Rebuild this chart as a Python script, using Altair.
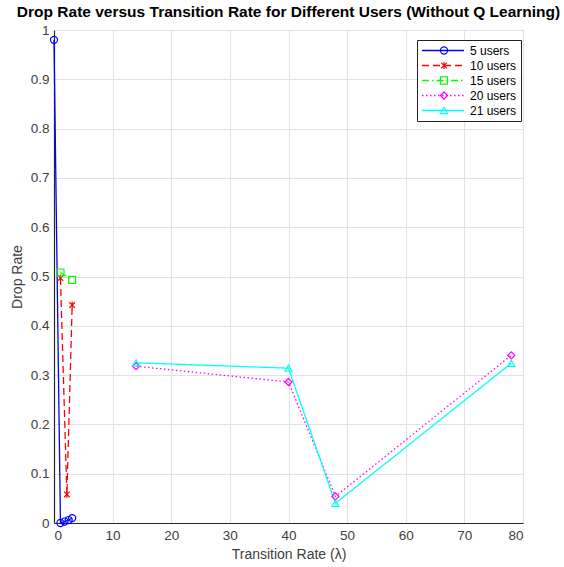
import altair as alt
import pandas as pd

series_names = ["5 users", "10 users", "15 users", "20 users", "21 users"]
colors = ["#0000FF", "#FF0000", "#00FF00", "#FF00FF", "#00FFFF"]
dashes = [[1, 0], [7, 4], [7, 3, 1.5, 3], [1.5, 2.5], [1, 0]]
asterisk = "M-0.8,-0.8L0.8,0.8M-0.8,0.8L0.8,-0.8M0,-1L0,1"
shapes = ["circle", asterisk, "square", "diamond", "triangle-up"]

x_5 = [0, 1.1, 1.8, 2.5, 3.1]
y_5 = [0.98, 0.0, 0.003, 0.006, 0.01]
x_10 = [1.1, 2.2, 3.1]
y_10 = [0.497, 0.058, 0.442]
x_15 = [1.1, 3.1]
y_15 = [0.508, 0.493]
x_20 = [14, 40, 48, 78]
y_20 = [0.318, 0.286, 0.054, 0.34]
x_21 = [14, 40, 48, 78]
y_21 = [0.325, 0.314, 0.04, 0.324]

xs = [x_5, x_10, x_15, x_20, x_21]
ys = [y_5, y_10, y_15, y_20, y_21]

rows = []
for name, xv, yv in zip(series_names, xs, ys):
    for i, (a, b) in enumerate(zip(xv, yv)):
        rows.append({"series": name, "series_p": name, "lam": a, "drop": b, "ord": i})
df = pd.DataFrame(rows)

FONT = "Liberation Sans"

x_enc = alt.X("lam:Q", scale=alt.Scale(domain=[0, 80], nice=False),
              axis=alt.Axis(values=list(range(0, 81, 10)), title="Transition  Rate  (\u03bb)"))
y_enc = alt.Y("drop:Q", scale=alt.Scale(domain=[0, 1], nice=False),
              axis=alt.Axis(values=[i / 10 for i in range(11)], format=".1~f", title="Drop Rate"))

legX, legY = 363, 10

line_legend = alt.Legend(
    orient="none", legendX=legX, legendY=legY, title=None,
    symbolType="stroke", symbolSize=1764, symbolStrokeWidth=1.3,
    clipHeight=13, rowPadding=2, padding=4, labelOffset=5,
    labelFont=FONT, labelFontSize=12, labelColor="#000000",
    strokeColor="#222222", fillColor="#FFFFFF", cornerRadius=0,
)
point_legend = alt.Legend(
    orient="none", legendX=legX + 17, legendY=legY, title=None,
    symbolSize=50, symbolStrokeWidth=1.2, symbolFillColor="transparent",
    clipHeight=13, rowPadding=2, padding=4, labelOffset=5,
    labelFont=FONT, labelFontSize=12, labelExpr="''",
)

lines = alt.Chart(df).mark_line(strokeWidth=1.3).encode(
    x=x_enc, y=y_enc,
    color=alt.Color("series:N", scale=alt.Scale(domain=series_names, range=colors), legend=line_legend),
    strokeDash=alt.StrokeDash("series:N", scale=alt.Scale(domain=series_names, range=dashes), legend=line_legend),
    order="ord:Q",
)

points = alt.Chart(df).mark_point(filled=False, size=50, strokeWidth=1.2, opacity=1).encode(
    x=x_enc, y=y_enc,
    color=alt.Color("series_p:N", scale=alt.Scale(domain=series_names, range=colors), legend=point_legend),
    shape=alt.Shape("series_p:N", scale=alt.Scale(domain=series_names, range=shapes), legend=point_legend),
)

chart = alt.layer(lines, points).resolve_scale(
    color="independent", strokeDash="independent", shape="independent"
).properties(
    width=469, height=493,
    background="#FFFFFF",
    autosize=alt.AutoSizeParams(type="none"),
    padding={"left": 54, "top": 30, "right": 41, "bottom": 44},
    title=alt.TitleParams(
        "Drop Rate versus Transition Rate for Different Users (Without Q Learning)",
        font=FONT, fontSize=15.5, fontWeight="bold", color="#000000",
        anchor="middle", frame="group", offset=3,
    ),
).configure_view(
    stroke="#c8c8c8", strokeWidth=1
).configure_axis(
    labelFont=FONT, titleFont=FONT, labelFontSize=13.5, titleFontSize=14,
    labelColor="#404040", titleColor="#404040", titleFontWeight="normal",
    grid=True, gridColor="#e2e2e2", gridWidth=1,
    domainColor="#262626", domainWidth=1.2,
    tickSize=0, labelPadding=5, titlePadding=6,
)

chart.save("out.html", embed_options={"renderer": "svg", "actions": False})
